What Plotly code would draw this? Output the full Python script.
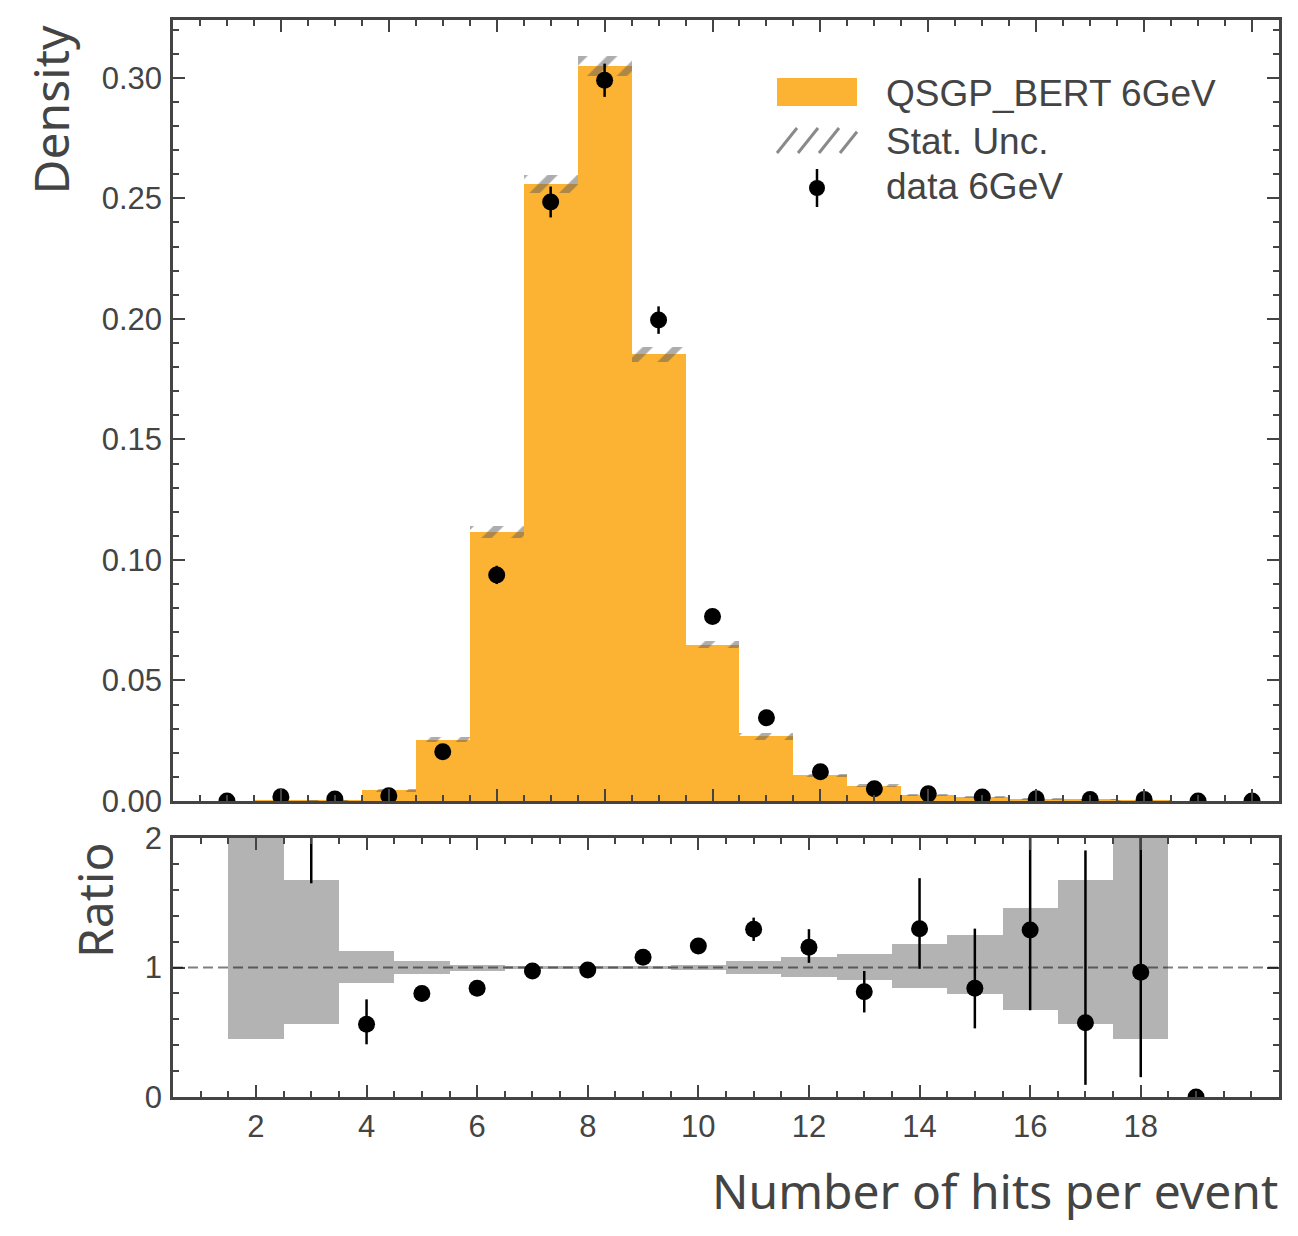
import plotly.graph_objects as go

# top panel: bins of the hit multiplicity (centres), simulation and data densities
hits = list(range(1, 21))
sim_density = [0.0, 0.0001, 0.0003, 0.0044, 0.0255, 0.1115, 0.2558, 0.3048, 0.1853, 0.0649,
               0.0268, 0.0106, 0.0064, 0.0023, 0.0016, 0.0010, 0.0006, 0.0004, 0.0, 0.0]
sim_unc = [0.0, 0.0001, 0.0002, 0.0005, 0.0012, 0.0024, 0.0037, 0.0041, 0.0032, 0.0014,
           0.0013, 0.0008, 0.0006, 0.0004, 0.0004, 0.0004, 0.0003, 0.0002, 0.0, 0.0]
data_density = [0.0, 0.0018, 0.0008, 0.0022, 0.0204, 0.0938, 0.2485, 0.2990, 0.1995, 0.0765,
                0.0345, 0.0121, 0.0051, 0.0030, 0.0017, 0.0009, 0.0006, 0.0006, 0.0, 0.0]
data_err = [0.0, 0.0006, 0.0004, 0.0006, 0.0016, 0.0038, 0.0064, 0.0069, 0.0057, 0.0030,
            0.0020, 0.0012, 0.0008, 0.0006, 0.0005, 0.0004, 0.0003, 0.0003, 0.0, 0.0]

# ratio panel
band_hits = list(range(2, 19))
band_low = [0.448, 0.564, 0.880, 0.950, 0.975, 0.988, 0.990, 0.985, 0.980, 0.950,
            0.929, 0.903, 0.844, 0.795, 0.672, 0.564, 0.448]
band_high = [2.6, 1.676, 1.127, 1.050, 1.019, 1.012, 1.010, 1.015, 1.020, 1.050,
             1.083, 1.104, 1.181, 1.251, 1.459, 1.676, 2.6]
ratio_hits = list(range(2, 20))
ratio = [None, 2.6, 0.561, 0.800, 0.839, 0.973, 0.981, 1.079, 1.166, 1.295,
         1.156, 0.813, 1.300, 0.840, 1.290, 0.574, 0.963, 0.0]
ratio_up = [0, 0.95, 0.193, 0.06, 0.03, 0.02, 0.02, 0.03, 0.04, 0.09,
            0.14, 0.16, 0.39, 0.46, 0.72, 1.33, 1.10, 0]
ratio_down = [0, 0.95, 0.154, 0.06, 0.03, 0.02, 0.02, 0.03, 0.04, 0.09,
              0.12, 0.16, 0.31, 0.31, 0.62, 0.48, 0.81, 0]

orange = "#fcb232"
ink = "#444444"
tick_font = dict(family="Liberation Sans, Arial", size=31, color=ink)
label_font = dict(family="Noto Sans", size=48, color=ink)

# the page puts the figure 8px in from the corner, so the plot area sits at 165..1271 x 12..1089
# px/py turn reference pixel positions into paper coordinates of that plot area
def px(x):
    return (x - 173) / 1106


def py(y):
    return (1097 - y) / 1077


fig = go.Figure()

fig.add_trace(go.Bar(x=hits, y=sim_density, width=1, marker=dict(color=orange, line=dict(width=0)),
                     xaxis="x", yaxis="y", showlegend=False))
fig.add_trace(go.Bar(x=hits, y=[2 * u for u in sim_unc],
                     base=[d - u for d, u in zip(sim_density, sim_unc)], width=1,
                     marker=dict(color="rgba(0,0,0,0)", line=dict(width=0),
                                 pattern=dict(shape="/", fgcolor="#5c5c5c", bgcolor="rgba(0,0,0,0)",
                                              size=21, solidity=0.35)),
                     xaxis="x", yaxis="y", showlegend=False))
fig.add_trace(go.Scatter(x=hits, y=data_density, mode="markers",
                         marker=dict(color="black", size=17),
                         error_y=dict(type="data", array=data_err, color="black", thickness=2.5, width=0),
                         xaxis="x", yaxis="y", showlegend=False))

fig.add_trace(go.Bar(x=band_hits, y=[h - l for h, l in zip(band_high, band_low)], base=band_low, width=1,
                     marker=dict(color="#b3b3b3", line=dict(width=0)),
                     xaxis="x2", yaxis="y2", showlegend=False))
fig.add_trace(go.Scatter(x=ratio_hits, y=ratio, mode="markers",
                         marker=dict(color="black", size=17),
                         error_y=dict(type="data", symmetric=False, array=ratio_up, arrayminus=ratio_down,
                                      color="black", thickness=2.5, width=0),
                         xaxis="x2", yaxis="y2", showlegend=False))

fig.add_shape(type="line", xref="x2 domain", yref="y2", x0=0, x1=1, y0=1, y1=1,
              line=dict(color="rgba(0,0,0,0.5)", width=2, dash="10px,5px"))

# legend drawn by hand
fig.add_shape(type="rect", xref="paper", yref="paper", x0=px(777), x1=px(857), y0=py(106), y1=py(78),
              fillcolor=orange, line=dict(width=0))
for x0 in [777, 798, 819, 840]:
    x1 = min(x0 + 20, 857)
    fig.add_shape(type="line", xref="paper", yref="paper", x0=px(x0), y0=py(153),
                  x1=px(x1), y1=py(153 - 25 * (x1 - x0) / 20),
                  line=dict(color="#8a8a8a", width=3))
fig.add_shape(type="line", xref="paper", yref="paper", x0=px(817), x1=px(817), y0=py(169), y1=py(207),
              line=dict(color="black", width=2.5))
fig.add_shape(type="circle", xref="paper", yref="paper", x0=px(809), x1=px(825), y0=py(196), y1=py(180),
              fillcolor="black", line=dict(width=0))
for txt, yc in [("QSGP_BERT 6GeV", 93), ("Stat. Unc.", 141), ("data 6GeV", 187)]:
    fig.add_annotation(text=txt, xref="paper", yref="paper", x=px(884), y=py(yc), xanchor="left",
                       yanchor="middle", showarrow=False,
                       font=dict(family="Liberation Sans, Arial", size=37, color=ink))

fig.add_annotation(text="Density", xref="paper", yref="paper", x=px(50), y=py(24), textangle=-90,
                   xanchor="center", yanchor="top", showarrow=False, font=label_font)
fig.add_annotation(text="Ratio", xref="paper", yref="paper", x=px(94), y=py(840), textangle=-90,
                   xanchor="center", yanchor="top", showarrow=False, font=label_font)
fig.add_annotation(text="Number of hits per event", xref="paper", yref="paper", x=px(1280), y=py(1190),
                   xanchor="right", yanchor="middle", showarrow=False, font=label_font)

axis = dict(showline=True, linecolor=ink, linewidth=2.5, mirror="ticks", ticks="inside", ticklen=12,
            tickwidth=2, tickcolor=ink, showgrid=False, zeroline=False, tickfont=tick_font,
            automargin=False,
            minor=dict(ticks="inside", ticklen=6, tickwidth=1.5, tickcolor=ink, showgrid=False))

fig.update_layout(
    width=1298, height=1236,
    margin=dict(l=165, r=27, t=12, b=147, autoexpand=False),
    paper_bgcolor="white", plot_bgcolor="white",
    barmode="overlay", bargap=0,
    xaxis=dict(axis, domain=[0, 1], anchor="y", range=[0, 20.5], tick0=0, dtick=2,
               showticklabels=False, minor=dict(axis["minor"], dtick=0.5)),
    yaxis=dict(axis, domain=[py(801), 1], anchor="x", range=[0, 0.324], tick0=0, dtick=0.05,
               tickformat=".2f", ticklabelstandoff=2, minor=dict(axis["minor"], dtick=0.01)),
    xaxis2=dict(axis, domain=[0, 1], anchor="y2", range=[0.5, 20.5], tickvals=list(range(2, 19, 2)),
                minor=dict(axis["minor"], dtick=0.5, tick0=0)),
    yaxis2=dict(axis, domain=[0, py(838)], anchor="x2", range=[0, 2], tickvals=[0, 1, 2],
                ticklabelstandoff=2, minor=dict(axis["minor"], dtick=0.2, tick0=0)),
)

fig.write_html("out.html")
